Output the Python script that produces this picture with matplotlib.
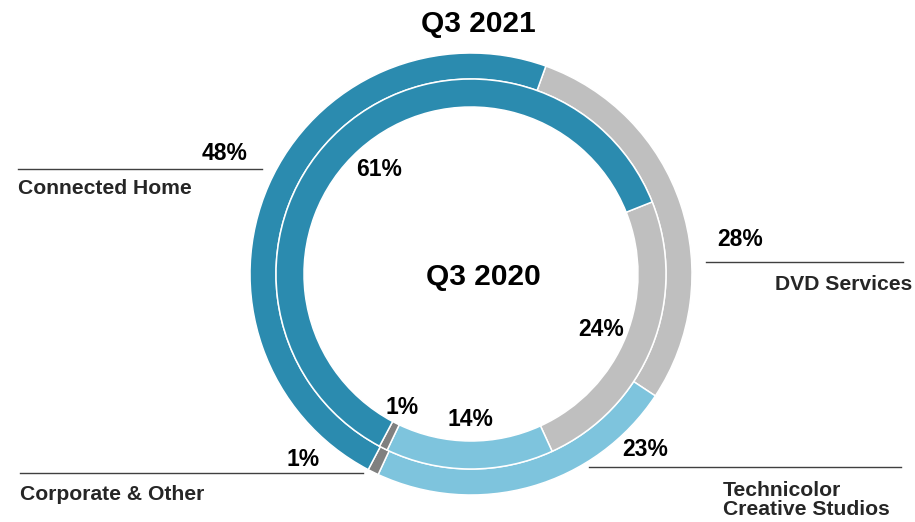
import matplotlib.pyplot as plt

plt.rcParams['font.family'] = ['Liberation Sans', 'DejaVu Sans']

# segments in drawing order (clockwise from the top-right boundary)
segments = ['DVD Services', 'Technicolor Creative Studios', 'Corporate & Other', 'Connected Home']
colors = ['#BFBFBF', '#7EC4DD', '#808080', '#2B8BAF']

# ring sizes (labels are the rounded figures)
q3_2021 = [28.8, 22.6, 0.8, 47.8]
q3_2020 = [24.2, 13.9, 0.7, 61.2]
labels_2021 = ['28%', '23%', '1%', '48%']
labels_2020 = ['24%', '14%', '1%', '61%']

W, H = 915, 522
fig = plt.figure(figsize=(W / 100, H / 100), dpi=100)
ax = fig.add_axes([0, 0, 1, 1])

def Y(y):
    # image row -> data y
    return H - y

cx, cy = 471, Y(274)

ax.pie(q3_2021, radius=221, center=(cx, cy), startangle=70.2, counterclock=False,
       colors=colors, wedgeprops=dict(width=26, edgecolor='white', linewidth=1.1))
ax.pie(q3_2020, radius=195, center=(cx, cy), startangle=21.7, counterclock=False,
       colors=colors, wedgeprops=dict(width=28, edgecolor='white', linewidth=1.1))

ax.set_xlim(0, W)
ax.set_ylim(0, H)
ax.set_aspect('equal')
ax.axis('off')

bold = dict(fontweight='bold', color='black')
cat = dict(fontweight='bold', color='#262626', fontsize=15.2)
pct = 16.5

ax.text(478, Y(24), 'Q3 2021', ha='center', va='center', fontsize=21.5, **bold)
ax.text(483, Y(277), 'Q3 2020', ha='center', va='center', fontsize=21.5, **bold)

# outer ring callouts
line_kw = dict(color='#404040', linewidth=1)
ax.plot([18, 262], [Y(169), Y(169)], **line_kw)
ax.text(247, Y(154), labels_2021[3], ha='right', va='center', fontsize=pct, **bold)
ax.text(18, Y(189), segments[3], ha='left', va='center', **cat)

ax.plot([706, 903], [Y(262), Y(262)], **line_kw)
ax.text(717, Y(240), labels_2021[0], ha='left', va='center', fontsize=pct, **bold)
ax.text(912, Y(285), segments[0], ha='right', va='center', **cat)

ax.plot([20, 363], [Y(473), Y(473)], **line_kw)
ax.text(320, Y(460), labels_2021[2], ha='right', va='center', fontsize=pct, **bold)
ax.text(20, Y(495), segments[2], ha='left', va='center', **cat)

ax.plot([589, 901], [Y(467), Y(467)], **line_kw)
ax.text(622, Y(450), labels_2021[1], ha='left', va='center', fontsize=pct, **bold)
ax.text(723, Y(500), 'Technicolor\nCreative Studios', ha='left', va='center',
        linespacing=1.0, **cat)

# inner ring labels
ax.text(379, Y(170), labels_2020[3], ha='center', va='center', fontsize=pct, **bold)
ax.text(601, Y(330), labels_2020[0], ha='center', va='center', fontsize=pct, **bold)
ax.text(402, Y(407), labels_2020[2], ha='center', va='center', fontsize=pct, **bold)
ax.text(470, Y(419), labels_2020[1], ha='center', va='center', fontsize=pct, **bold)

fig.savefig('out.png', dpi=100)
